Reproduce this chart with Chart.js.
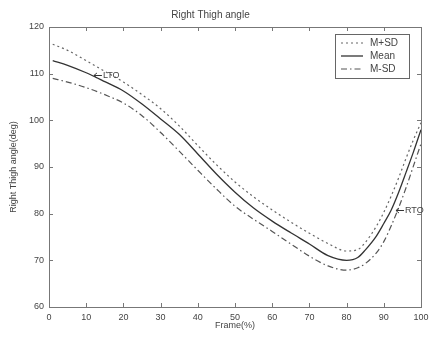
<!DOCTYPE html>
<html>
<head>
<meta charset="utf-8">
<script src="https://cdn.jsdelivr.net/npm/chart.js@4"></script>
<style>
  html, body { margin: 0; padding: 0; background: #fff; }
  #wrap { width: 432px; height: 338px; }
</style>
</head>
<body>
<div id="wrap"><canvas id="thighChart" width="432" height="338"></canvas></div>
<script>
// --------------- Data ---------------------------------------
const frames = [1, 5, 10, 15, 20, 25, 30, 35, 40, 45, 50, 55, 60, 65, 70, 75, 80, 83, 85, 88, 90, 92, 94, 96, 98, 100];
const plusSD = [116.3, 115, 112.8, 110.5, 108.2, 105.5, 102.5, 98.8, 94.6, 90.5, 86.8, 83.6, 80.8, 78.2, 75.8, 73.6, 72, 72.3, 73.8, 77.3, 80.3, 83.8, 87.7, 91.9, 95.9, 99.5];
const meanVals = [112.8, 111.8, 110.2, 108.3, 106.3, 103.5, 100.3, 97, 92.8, 88.5, 84.6, 81.2, 78.4, 75.9, 73.5, 71, 70, 70.6, 72.2, 75.2, 77.9, 80.8, 84.6, 88.9, 93.3, 98];
const minusSD = [109, 108.2, 107, 105.5, 103.7, 101, 97.4, 93.4, 89.3, 85.3, 81.6, 78.8, 76.2, 73.5, 70.9, 68.8, 67.9, 68.4, 69.3, 71.6, 74, 77.4, 81.3, 85.6, 90.3, 95];
const seriesNames = ["M+SD", "Mean", "M-SD"];
const xTicks = [0, 10, 20, 30, 40, 50, 60, 70, 80, 90, 100];
const yTicks = [60, 70, 80, 90, 100, 110, 120];
// event labels: [frame, angle, text]
const events = [[11.8, 109.7, "LTO"], [93, 80.8, "RTO"]];

const FONT = "'Liberation Sans', Arial, sans-serif";
const INK = "#444";

const toPoints = (vals) => vals.map((v, i) => ({ x: frames[i], y: v }));

// --------------- Box, inward ticks, legend, labels -----------------
const matlabBox = {
  id: "matlabBox",
  afterDraw(chart) {
    const { ctx, chartArea: a, scales } = chart;
    ctx.save();
    ctx.strokeStyle = "#777";
    ctx.lineWidth = 1;
    ctx.strokeRect(a.left + 0.5, a.top + 0.5, a.right - a.left, a.bottom - a.top);

    // ticks pointing in, on all four sides
    ctx.beginPath();
    xTicks.forEach(v => {
      const px = Math.round(scales.x.getPixelForValue(v)) + 0.5;
      ctx.moveTo(px, a.bottom); ctx.lineTo(px, a.bottom - 4);
      ctx.moveTo(px, a.top); ctx.lineTo(px, a.top + 4);
    });
    yTicks.forEach(v => {
      const py = Math.round(scales.y.getPixelForValue(v)) + 0.5;
      ctx.moveTo(a.left, py); ctx.lineTo(a.left + 4, py);
      ctx.moveTo(a.right, py); ctx.lineTo(a.right - 4, py);
    });
    ctx.stroke();

    // event labels with a left arrow
    ctx.font = "9px " + FONT;
    ctx.textBaseline = "middle";
    ctx.textAlign = "left";
    events.forEach(([f, v, t]) => {
      const px = scales.x.getPixelForValue(f), py = Math.round(scales.y.getPixelForValue(v)) + 0.5;
      ctx.strokeStyle = "#333";
      ctx.beginPath();
      ctx.moveTo(px + 1, py); ctx.lineTo(px + 9, py);
      ctx.moveTo(px + 4, py - 2.5); ctx.lineTo(px + 1, py); ctx.lineTo(px + 4, py + 2.5);
      ctx.stroke();
      ctx.fillStyle = INK;
      ctx.fillText(t, px + 10, py);
    });

    // legend
    const bx = a.right - 86, by = a.top + 7, bw = 74, bh = 44;
    ctx.fillStyle = "#fff";
    ctx.fillRect(bx, by, bw, bh);
    ctx.strokeStyle = "#666";
    ctx.strokeRect(bx + 0.5, by + 0.5, bw, bh);
    chart.data.datasets.forEach((ds, i) => {
      const ly = by + 9 + i * 13;
      ctx.strokeStyle = ds.borderColor;
      ctx.lineWidth = ds.borderWidth;
      ctx.setLineDash(ds.borderDash || []);
      ctx.beginPath();
      ctx.moveTo(bx + 6, ly); ctx.lineTo(bx + 28, ly);
      ctx.stroke();
      ctx.setLineDash([]);
      ctx.fillStyle = INK;
      ctx.font = "10px " + FONT;
      ctx.fillText(ds.label, bx + 35, ly);
    });
    ctx.restore();
  }
};

// --------------- Draw Chart -----------------
const ctx = document.getElementById("thighChart").getContext("2d");

new Chart(ctx, {
  type: "line",
  data: {
    datasets: [
      {
        label: seriesNames[0],
        data: toPoints(plusSD),
        borderColor: "#666",
        borderWidth: 1.2,
        borderDash: [2, 3],
        pointRadius: 0,
        cubicInterpolationMode: "monotone"
      },
      {
        label: seriesNames[1],
        data: toPoints(meanVals),
        borderColor: "#333",
        borderWidth: 1.3,
        pointRadius: 0,
        cubicInterpolationMode: "monotone"
      },
      {
        label: seriesNames[2],
        data: toPoints(minusSD),
        borderColor: "#555",
        borderWidth: 1.2,
        borderDash: [6, 3, 1.5, 3],
        pointRadius: 0,
        cubicInterpolationMode: "monotone"
      }
    ]
  },
  options: {
    responsive: false,
    animation: false,
    layout: { padding: { left: 0, right: 11, top: 0, bottom: 0 } },
    plugins: {
      legend: { display: false },
      tooltip: { enabled: false },
      title: {
        display: true,
        text: "Right Thigh angle",
        color: INK,
        font: { family: FONT, size: 10, weight: "normal" },
        padding: { top: 9, bottom: 6 }
      }
    },
    scales: {
      x: {
        type: "linear",
        min: 0,
        max: 100,
        afterBuildTicks: (s) => { s.ticks = xTicks.map(v => ({ value: v })); },
        afterFit: (s) => { s.height = 31; s.paddingLeft = 0; s.paddingRight = 0; },
        grid: { display: false, drawTicks: false },
        border: { display: false },
        ticks: { color: INK, font: { family: FONT, size: 9 }, padding: 5, maxRotation: 0 },
        title: { display: true, text: "Frame(%)", color: INK, font: { family: FONT, size: 9 }, padding: { top: 0, bottom: 7 } }
      },
      y: {
        min: 60,
        max: 120,
        afterBuildTicks: (s) => { s.ticks = yTicks.map(v => ({ value: v })); },
        afterFit: (s) => { s.width = 49; s.paddingTop = 0; s.paddingBottom = 0; },
        grid: { display: false, drawTicks: false },
        border: { display: false },
        ticks: { color: INK, font: { family: FONT, size: 9 }, padding: 5 },
        title: { display: true, text: "Right Thigh angle(deg)", color: INK, font: { family: FONT, size: 9 }, padding: { top: 8, bottom: 0 } }
      }
    }
  },
  plugins: [matlabBox]
});
</script>
</body>
</html>
